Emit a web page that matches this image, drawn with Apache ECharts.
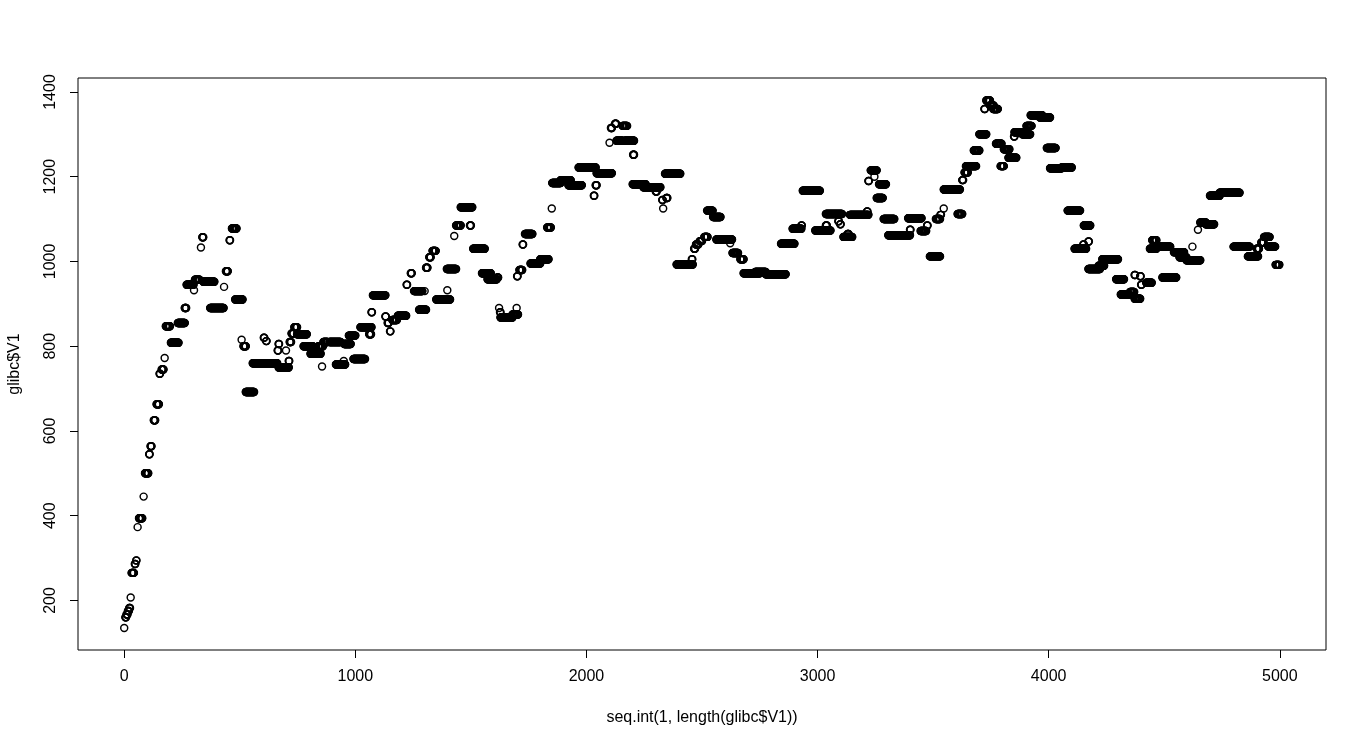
<!DOCTYPE html>
<html>
<head>
<meta charset="utf-8">
<script src="https://cdn.jsdelivr.net/npm/echarts@6/dist/echarts.min.js"></script>
<style>
html,body{margin:0;padding:0;background:#fff;}
#chart{width:1366px;height:747px;}
</style>
</head>
<body>
<div id="chart"></div>
<script>
// Runs of equal values: index range [runStart, runEnd] holds runValue
const runStart = [0,5,10,16,22,28,32,46,52,58,
64,84,90,108,114,128,140,153,162,175,
180,202,232,262,270,302,306,332,338,342,
372,432,440,456,466,480,508,516,526,556,
604,614,622,664,668,668,700,712,716,724,
736,748,776,806,856,840,862,888,916,950,
952,972,992,1022,1060,1070,1076,1130,1140,1150,
1160,1184,1222,1240,1254,1276,1300,1306,1320,1334,
1350,1398,1396,1428,1436,1456,1496,1510,1548,1572,
1614,1622,1626,1628,1680,1698,1700,1710,1724,1734,
1758,1800,1830,1850,1852,1888,1922,1966,2032,2040,
2044,2100,2106,2124,2130,2156,2166,2202,2200,2246,
2300,2328,2332,2346,2340,2390,2456,2466,2474,2490,
2510,2522,2548,2562,2622,2632,2666,2680,2730,2776,
2842,2892,2930,2936,2990,3036,3036,3090,3098,3112,
3130,3140,3214,3220,3230,3246,3256,3266,3286,3306,
3400,3392,3446,3474,3486,3512,3532,3546,3546,3606,
3626,3636,3642,3676,3700,3722,3730,3746,3760,3772,
3792,3806,3826,3850,3852,3886,3904,3922,3962,3992,
4006,4056,4082,4112,4150,4152,4172,4172,4216,4232,
4292,4312,4352,4372,4372,4396,4400,4422,4438,4448,
4466,4492,4542,4566,4622,4596,4646,4656,4680,4698,
4740,4800,4862,4900,4920,4932,4950,4982];

const runEnd = [0,8,14,20,25,28,42,48,53,58,
78,84,104,110,118,134,150,155,170,175,
198,235,262,268,300,302,326,332,342,390,
430,432,448,458,486,512,508,526,562,622,
606,616,662,666,670,712,700,714,722,732,
748,790,816,850,856,860,880,936,956,950,
980,1000,1042,1070,1068,1072,1130,1132,1144,1152,
1180,1220,1224,1244,1290,1306,1300,1312,1326,1348,
1410,1398,1436,1428,1456,1506,1500,1560,1586,1612,
1618,1622,1628,1680,1704,1698,1702,1722,1726,1766,
1800,1836,1846,1850,1888,1932,1980,2040,2034,2044,
2110,2100,2110,2128,2156,2176,2206,2206,2256,2320,
2304,2330,2332,2350,2406,2460,2458,2470,2484,2500,
2524,2546,2580,2630,2622,2656,2680,2750,2776,2862,
2900,2930,2932,3010,3056,3040,3106,3092,3100,3150,
3134,3220,3216,3222,3256,3246,3282,3296,3332,3400,
3402,3450,3470,3476,3530,3530,3534,3546,3616,3626,
3630,3650,3686,3700,3730,3724,3746,3762,3780,3796,
3806,3830,3860,3852,3896,3920,3926,3972,4006,4030,
4056,4100,4136,4162,4152,4180,4174,4222,4240,4300,
4326,4350,4370,4396,4374,4398,4402,4446,4466,4466,
4526,4552,4586,4596,4622,4656,4646,4680,4716,4740,
4826,4870,4906,4910,4930,4956,4980,4998];

const runValue = [135,160,167,175,182,207,265,286,294,373,
394,445,500,545,564,625,663,735,745,772,
847,808,855,890,945,932,957,1033,1057,952,
890,940,977,1050,1078,910,815,800,692,760,
820,812,760,790,805,750,790,765,810,830,
845,828,800,782,752,800,810,810,757,765,
805,825,770,845,828,880,920,870,855,835,
862,872,945,972,930,886,930,985,1010,1025,
910,932,982,1060,1085,1128,1085,1030,972,958,
962,890,880,868,875,890,965,980,1040,1065,
995,1005,1080,1125,1185,1192,1180,1222,1155,1180,
1208,1280,1315,1325,1285,1320,1285,1252,1182,1175,
1165,1145,1125,1150,1207,993,1005,1030,1040,1048,
1058,1120,1105,1052,1043,1020,1005,972,975,970,
1042,1077,1085,1167,1073,1085,1112,1095,1088,1058,
1065,1110,1118,1190,1215,1200,1150,1182,1100,1062,
1075,1102,1072,1085,1012,1100,1110,1125,1170,1112,
1192,1210,1225,1262,1300,1360,1380,1368,1360,1278,
1225,1265,1245,1295,1305,1300,1320,1345,1340,1268,
1220,1222,1120,1030,1040,1085,1047,982,990,1005,
958,922,928,912,968,965,945,950,1030,1050,
1035,962,1022,1010,1035,1003,1075,1092,1088,1155,
1162,1035,1012,1030,1045,1058,1035,992];

const xTicks = [0, 1000, 2000, 3000, 4000, 5000];
const yTicks = [200, 400, 600, 800, 1000, 1200, 1400];
const xTitle = 'seq.int(1, length(glibc$V1))';
const yTitle = 'glibc$V1';

const points = [];
for (let r = 0; r < runStart.length; r++) {
  for (let i = runStart[r]; i <= runEnd[r]; i++) {
    points.push([i, runValue[r]]);
  }
}

const FONT = '"Liberation Sans", Arial, Helvetica, sans-serif';
const plain = function (v) { return String(v); };
const chart = echarts.init(document.getElementById('chart'), null, {renderer: 'canvas'});
chart.setOption({
  backgroundColor: '#ffffff',
  animation: false,
  grid: {
    left: 78, right: 40, top: 78, bottom: 97,
    show: true, borderColor: '#000', borderWidth: 1,
    backgroundColor: 'transparent',
    containLabel: false,
    outerBoundsMode: 'none'
  },
  xAxis: {
    type: 'value',
    min: -199.96, max: 5200,
    name: xTitle,
    nameLocation: 'middle',
    nameGap: 60,
    nameTextStyle: {color: '#000', fontSize: 16, fontFamily: FONT},
    axisLine: {show: false, onZero: false},
    splitLine: {show: false},
    axisTick: {show: true, inside: false, length: 8, customValues: xTicks,
      lineStyle: {color: '#000', width: 1}},
    axisLabel: {show: true, customValues: xTicks, margin: 19, color: '#000',
      fontSize: 16, fontFamily: FONT, formatter: plain}
  },
  yAxis: {
    type: 'value',
    min: 83, max: 1433,
    name: yTitle,
    nameLocation: 'middle',
    nameGap: 55,
    nameRotate: 90,
    nameTextStyle: {color: '#000', fontSize: 16, fontFamily: FONT},
    axisLine: {show: false, onZero: false},
    splitLine: {show: false},
    axisTick: {show: true, inside: false, length: 8, customValues: yTicks,
      lineStyle: {color: '#000', width: 1}},
    axisLabel: {show: true, customValues: yTicks, margin: 19, rotate: 90, color: '#000',
      fontSize: 16, fontFamily: FONT, formatter: plain}
  },
  series: [{
    type: 'scatter',
    data: points,
    symbol: 'circle',
    symbolSize: 7,
    silent: true,
    progressive: 0,
    large: false,
    itemStyle: {color: 'rgba(0,0,0,0)', borderColor: '#000', borderWidth: 1.45, opacity: 1}
  }]
});
</script>
</body>
</html>
